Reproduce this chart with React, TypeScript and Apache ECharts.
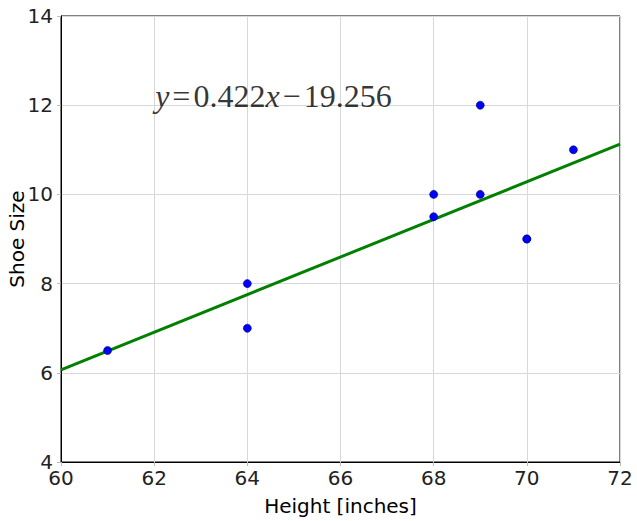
import React, { useEffect, useRef } from "react";
import * as echarts from "echarts";

const heights = [61, 64, 64, 68, 68, 69, 69, 70, 70, 71];
const shoeSizes = [6.5, 8, 7, 10, 9.5, 12, 10, 9, 9, 11];
const fitX = [60, 72];
const fitY = [6.064, 11.128];
const xTicks = [60, 62, 64, 66, 68, 70, 72];
const yTicks = [4, 6, 8, 10, 12, 14];

export default function App() {
  const ref = useRef<HTMLDivElement>(null);
  useEffect(() => {
    if (!ref.current) return;
    const chart = echarts.init(ref.current, undefined, { renderer: "svg" });
    const font = "DejaVu Sans";
    chart.setOption({
      animation: false,
      backgroundColor: "#ffffff",
      grid: {
        left: 61,
        right: 17,
        top: 16,
        bottom: 59,
        containLabel: false,
        outerBoundsMode: "none",
        show: true,
        borderColor: "#000",
        borderWidth: 1,
        backgroundColor: "transparent",
      },
      xAxis: {
        type: "value",
        min: xTicks[0],
        max: xTicks[xTicks.length - 1],
        interval: 2,
        name: "Height [inches]",
        nameLocation: "middle",
        nameGap: 34,
        nameMoveOverlap: false,
        nameTextStyle: { fontFamily: font, fontSize: 20, color: "#000" },
        axisLine: { show: true, lineStyle: { color: "#000", width: 1 } },
        axisTick: { show: true, length: 4, lineStyle: { color: "#bbb" } },
        axisLabel: { fontFamily: font, fontSize: 20, color: "#222", margin: 6 },
        splitLine: { show: true, lineStyle: { color: "#d8d8d8", width: 1 } },
      },
      yAxis: {
        type: "value",
        min: yTicks[0],
        max: yTicks[yTicks.length - 1],
        interval: 2,
        name: "Shoe Size",
        nameLocation: "middle",
        nameGap: 34,
        nameMoveOverlap: false,
        nameRotate: 90,
        nameTextStyle: { fontFamily: font, fontSize: 20, color: "#000" },
        axisLine: { show: true, lineStyle: { color: "#000", width: 1 } },
        axisTick: { show: true, length: 4, lineStyle: { color: "#bbb" } },
        axisLabel: { fontFamily: font, fontSize: 20, color: "#222", margin: 8 },
        splitLine: { show: true, lineStyle: { color: "#d8d8d8", width: 1 } },
      },
      series: [
        {
          type: "line",
          data: fitX.map((x, i) => [x, fitY[i]]),
          showSymbol: false,
          lineStyle: { color: "#008000", width: 3 },
          z: 2,
        },
        {
          type: "scatter",
          data: heights.map((h, i) => [h, shoeSizes[i]]),
          symbol: "circle",
          symbolSize: 8,
          itemStyle: { color: "#0000ff", borderColor: "#00006a", borderWidth: 0.6, opacity: 1 },
          z: 3,
        },
        {
          type: "scatter",
          data: [[62, 12]],
          symbolSize: 0,
          silent: true,
          label: {
            show: true,
            position: "right",
            distance: 0,
            offset: [1, -9],
            formatter: "{i|y}{s| }{r|=}{s| }{r|0.422}{i|x}{s| }{r|−}{s| }{r|19.256}",
            rich: {
              i: { fontFamily: "Liberation Serif", fontStyle: "italic", fontSize: 32, color: "#000" },
              r: { fontFamily: "Liberation Serif", fontSize: 32, color: "#000" },
              s: { fontFamily: "Liberation Serif", fontSize: 12, color: "#000" },
            },
          },
          z: 4,
        },
      ],
    });
    return () => chart.dispose();
  }, []);
  return <div ref={ref} style={{ width: 637, height: 521, position: "absolute", left: 0, top: 0 }} />;
}
